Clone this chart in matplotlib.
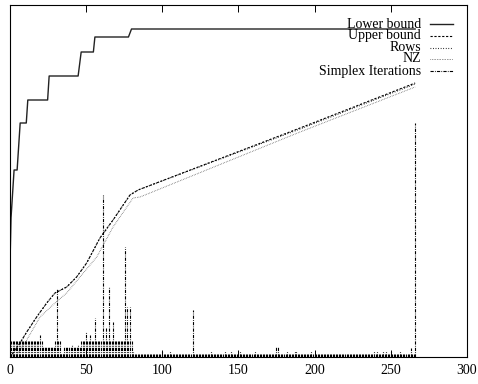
import matplotlib
matplotlib.use("Agg")
import matplotlib.pyplot as plt
from matplotlib.lines import Line2D

plt.rcParams['font.family'] = ['Liberation Serif', 'DejaVu Serif']

# ---- data (y in arbitrary units) ----
lb_x = [0, 1, 3, 5, 7, 11, 12, 25, 26, 45, 47, 55, 56, 78, 80, 266]
lb_y = [70, 139, 187, 187, 234, 234, 257, 257, 281, 281, 305, 305, 320, 320, 328, 328]

ub_x = [0, 1.4, 3.6, 6.9, 11.3, 17.8, 24.4, 29.8, 37.5, 44, 50.6, 59.3, 67.9, 79, 84.3, 190.5, 266]
ub_y = [0, 2, 7, 14, 25, 40, 54, 64, 70, 80, 94, 119, 137, 162, 167, 229, 274]

rows_x = [0, 1.4, 3.6, 6.9, 11.3, 17.8, 24.4, 29.8, 37.5, 44, 50.6, 59.3, 67.9, 79, 84.3, 190.5, 266]
rows_y = [0, 2, 7, 14, 25, 40, 54, 64, 70, 80, 94, 119, 137, 162, 167, 228, 273]

nz_x = [0, 4.7, 11.3, 20, 29.8, 37.5, 46.2, 57.2, 67.9, 81, 85.6, 190.5, 266]
nz_y = [0, 2, 17, 40, 54, 64, 80, 100, 130, 159, 160, 225, 270]

simplex_iters = [
    16, 16, 16, 16, 16, 16, 16, 16, 16, 16,
    16, 16, 16, 16, 16, 16, 16, 16, 16, 16,
    22, 16, 10, 10, 10, 10, 10, 10, 10, 10,
    16, 68, 16, 16, 4, 4, 10, 10, 10, 10,
    10, 12, 10, 10, 10, 12, 10, 16, 16, 16,
    25, 16, 16, 22, 16, 16, 39, 16, 16, 16,
    16, 162, 16, 30, 16, 70, 16, 16, 35, 16,
    16, 16, 16, 16, 16, 16, 110, 50, 16, 50,
    16, 5, 3, 3, 3, 3, 3, 3, 3, 3,
    3, 3, 3, 3, 3, 3, 3, 3, 3, 3,
    6, 3, 3, 3, 3, 6, 3, 3, 3, 3,
    3, 3, 3, 3, 3, 3, 3, 3, 3, 3,
    47, 3, 3, 3, 3, 3, 3, 3, 3, 3,
    3, 3, 6, 3, 3, 3, 3, 3, 3, 3,
    3, 6, 3, 3, 3, 6, 3, 3, 3, 3,
    3, 6, 3, 3, 3, 3, 3, 3, 3, 3,
    3, 6, 3, 3, 3, 3, 3, 3, 3, 3,
    3, 3, 3, 3, 3, 10, 10, 3, 3, 3,
    3, 3, 6, 3, 3, 3, 3, 6, 6, 3,
    3, 3, 3, 3, 3, 3, 3, 3, 6, 3,
    3, 3, 3, 3, 3, 3, 3, 3, 3, 3,
    3, 3, 3, 3, 3, 3, 3, 3, 3, 3,
    3, 3, 3, 3, 3, 3, 3, 3, 3, 3,
    3, 3, 3, 3, 3, 3, 3, 3, 3, 6,
    3, 6, 3, 3, 3, 6, 3, 6, 3, 3,
    6, 3, 3, 3, 3, 3, 6, 3, 3, 3,
    3, 3, 3, 9, 3, 3, 234,
]
simplex_x = list(range(len(simplex_iters)))

legend_labels = ["Lower bound", "Upper bound", "Rows", "NZ", "Simplex Iterations"]
xticks = [0, 50, 100, 150, 200, 250, 300]

# ---- figure ----
W, H = 478, 384
fig = plt.figure(figsize=(W / 100, H / 100), dpi=100)
L, R, B, T = 9.5, 467, 357, 5
ax = fig.add_axes([L / W, 1 - B / H, (R - L) / W, (B - T) / H])
ax.set_xlim(0, 300)
ax.set_ylim(0, B - T)

styles = {
    "lb": dict(color="#222222", lw=1.0, linestyle="-"),
    "ub": dict(color="black", lw=0.8, linestyle=(0, (2.0, 1.5))),
    "rows": dict(color="black", lw=0.8, linestyle=(0, (0.7, 1.6))),
    "nz": dict(color="#555555", lw=0.7, linestyle=(0, (0.6, 1.1))),
    "si": dict(color="black", lw=0.8, linestyle=(0, (2.9, 1.1, 0.7, 1.1))),
}

ax.plot(lb_x, lb_y, **styles["lb"])
ax.plot(ub_x, ub_y, **styles["ub"])
ax.plot(rows_x, rows_y, **styles["rows"])
ax.plot(nz_x, nz_y, **styles["nz"])
ax.vlines(simplex_x, 0, simplex_iters, colors=styles["si"]["color"],
          linewidths=styles["si"]["lw"], linestyles=[styles["si"]["linestyle"]])

# gnuplot-style legend: right-aligned text followed by sample line
ys_px = [24, 36, 47.5, 59, 71]
keys = ["lb", "ub", "rows", "nz", "si"]
for lab, ypx, k in zip(legend_labels, ys_px, keys):
    yf = (B - ypx) / (B - T)
    ax.text((421 - L) / (R - L), yf, lab, transform=ax.transAxes,
            ha="right", va="center", fontsize=10)
    st = styles[k]
    ax.add_line(Line2D([(430 - L) / (R - L), (453 - L) / (R - L)], [yf, yf],
                       transform=ax.transAxes, color=st["color"], lw=st["lw"],
                       linestyle=st["linestyle"]))

ax.set_xticks(xticks)
ax.set_xticklabels([str(t) for t in xticks])
ax.tick_params(axis="x", direction="in", top=True, length=5, width=0.7,
               labelsize=10, pad=5)
ax.tick_params(axis="y", left=False, labelleft=False)
for s in ax.spines.values():
    s.set_linewidth(0.8)

fig.savefig("out.png", dpi=100)
